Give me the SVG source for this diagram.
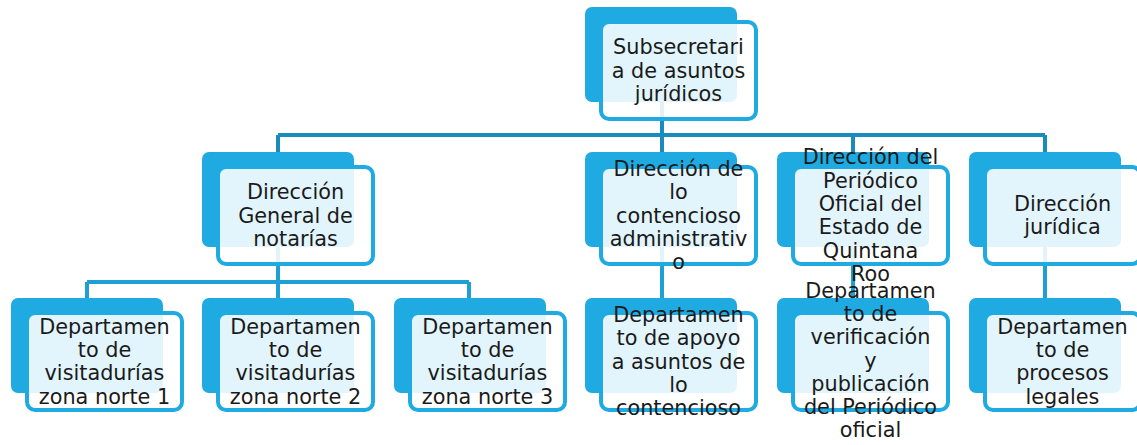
<svg xmlns="http://www.w3.org/2000/svg" width="1137" height="445" viewBox="0 0 1137 445">
<style>
.back{fill:#1faae1}
.front{fill:#ffffff;fill-opacity:0.88;stroke:#1faae1;stroke-width:4}
.c1{fill:none;stroke:#1a8bbd;stroke-width:4}
.c2{fill:none;stroke:#1e9fd6;stroke-width:4}
.t{font-family:"DejaVu Sans",sans-serif;font-size:20.8px;fill:#1a1a1a;text-anchor:middle}
</style>
<rect width="1137" height="445" fill="#ffffff"/>
<g id="connectors">
<path class="c1" d="M662 95 V135 M278 135 H1045 M278 135 V152 M662 135 V152 M853 135 V152 M1045 135 V152"/>
<path class="c2" d="M278 240 V282 M87 282 H469 M87 282 V298 M278 282 V298 M469 282 V298 M662 240 V298 M853 240 V298 M1045 240 V298"/>
</g>
<g id="n0">
<rect class="back" x="585" y="7" width="152" height="95" rx="7"/>
<rect class="front" x="601" y="22" width="155" height="97" rx="8"/>
<text class="t"><tspan x="678.5" y="54.2">Subsecretari</tspan><tspan x="678.5" y="77.5">a de asuntos</tspan><tspan x="678.5" y="100.8">jurídicos</tspan></text>
</g>
<g id="n1">
<rect class="back" x="202" y="152" width="152" height="95" rx="7"/>
<rect class="front" x="218" y="167" width="155" height="97" rx="8"/>
<text class="t"><tspan x="295.5" y="199.2">Dirección</tspan><tspan x="295.5" y="222.5">General de</tspan><tspan x="295.5" y="245.8">notarías</tspan></text>
</g>
<g id="n2">
<rect class="back" x="585" y="152" width="152" height="95" rx="7"/>
<rect class="front" x="601" y="167" width="155" height="97" rx="8"/>
<text class="t"><tspan x="678.5" y="175.9">Dirección de</tspan><tspan x="678.5" y="199.2">lo</tspan><tspan x="678.5" y="222.5">contencioso</tspan><tspan x="678.5" y="245.8">administrativ</tspan><tspan x="678.5" y="269.1">o</tspan></text>
</g>
<g id="n3">
<rect class="back" x="777" y="152" width="152" height="95" rx="7"/>
<rect class="front" x="793" y="167" width="155" height="97" rx="8"/>
<text class="t"><tspan x="870.5" y="164.2">Dirección del</tspan><tspan x="870.5" y="187.5">Periódico</tspan><tspan x="870.5" y="210.8">Oficial del</tspan><tspan x="870.5" y="234.2">Estado de</tspan><tspan x="870.5" y="257.5">Quintana</tspan><tspan x="870.5" y="280.8">Roo</tspan></text>
</g>
<g id="n4">
<rect class="back" x="969" y="152" width="152" height="95" rx="7"/>
<rect class="front" x="985" y="167" width="155" height="97" rx="8"/>
<text class="t"><tspan x="1062.5" y="210.8">Dirección</tspan><tspan x="1062.5" y="234.2">jurídica</tspan></text>
</g>
<g id="n5">
<rect class="back" x="11" y="298" width="152" height="95" rx="7"/>
<rect class="front" x="27" y="313" width="155" height="97" rx="8"/>
<text class="t"><tspan x="104.5" y="333.5">Departamen</tspan><tspan x="104.5" y="356.8">to de</tspan><tspan x="104.5" y="380.2">visitadurías</tspan><tspan x="104.5" y="403.5">zona norte 1</tspan></text>
</g>
<g id="n6">
<rect class="back" x="202" y="298" width="152" height="95" rx="7"/>
<rect class="front" x="218" y="313" width="155" height="97" rx="8"/>
<text class="t"><tspan x="295.5" y="333.5">Departamen</tspan><tspan x="295.5" y="356.8">to de</tspan><tspan x="295.5" y="380.2">visitadurías</tspan><tspan x="295.5" y="403.5">zona norte 2</tspan></text>
</g>
<g id="n7">
<rect class="back" x="394" y="298" width="152" height="95" rx="7"/>
<rect class="front" x="410" y="313" width="155" height="97" rx="8"/>
<text class="t"><tspan x="487.5" y="333.5">Departamen</tspan><tspan x="487.5" y="356.8">to de</tspan><tspan x="487.5" y="380.2">visitadurías</tspan><tspan x="487.5" y="403.5">zona norte 3</tspan></text>
</g>
<g id="n8">
<rect class="back" x="585" y="298" width="152" height="95" rx="7"/>
<rect class="front" x="601" y="313" width="155" height="97" rx="8"/>
<text class="t"><tspan x="678.5" y="321.9">Departamen</tspan><tspan x="678.5" y="345.2">to de apoyo</tspan><tspan x="678.5" y="368.5">a asuntos de</tspan><tspan x="678.5" y="391.8">lo</tspan><tspan x="678.5" y="415.1">contencioso</tspan></text>
</g>
<g id="n9">
<rect class="back" x="777" y="298" width="152" height="95" rx="7"/>
<rect class="front" x="793" y="313" width="155" height="97" rx="8"/>
<text class="t"><tspan x="870.5" y="297.6">Departamen</tspan><tspan x="870.5" y="320.9">to de</tspan><tspan x="870.5" y="344.2">verificación</tspan><tspan x="870.5" y="367.5">y</tspan><tspan x="870.5" y="390.8">publicación</tspan><tspan x="870.5" y="414.1">del Periódico</tspan><tspan x="870.5" y="437.4">oficial</tspan></text>
</g>
<g id="n10">
<rect class="back" x="969" y="298" width="152" height="95" rx="7"/>
<rect class="front" x="985" y="313" width="155" height="97" rx="8"/>
<text class="t"><tspan x="1062.5" y="333.5">Departamen</tspan><tspan x="1062.5" y="356.8">to de</tspan><tspan x="1062.5" y="380.2">procesos</tspan><tspan x="1062.5" y="403.5">legales</tspan></text>
</g>
</svg>
